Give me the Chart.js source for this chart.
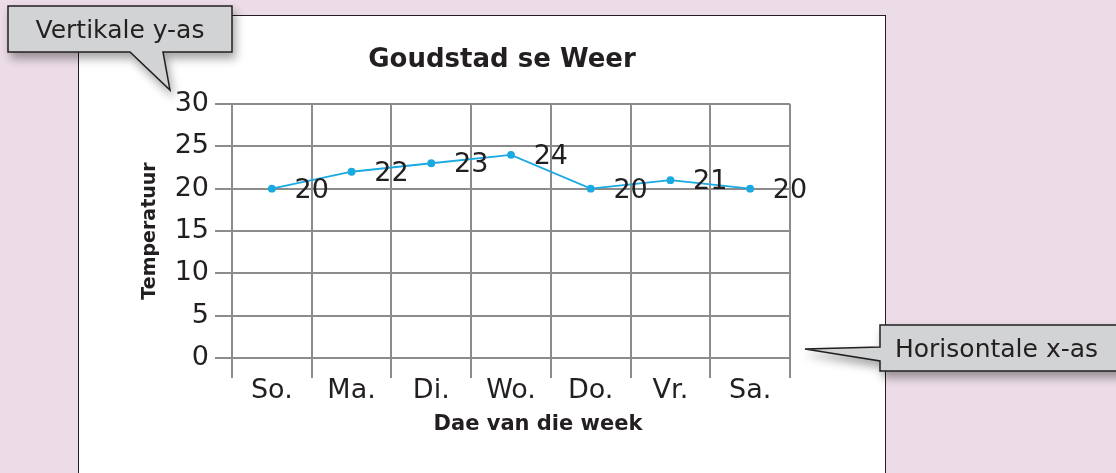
<!DOCTYPE html>
<html>
<head>
  <title>Goudstad se Weer</title>
  <script src="https://cdn.jsdelivr.net/npm/chart.js"></script>
  <style>
    body { margin: 0; width: 1116px; height: 473px; background: #ecdce7; overflow: hidden; position: relative; font-family: 'DejaVu Sans', sans-serif; }
    #panel { position: absolute; left: 78px; top: 15px; width: 808px; height: 480px; background: #fff; border: 1.5px solid #231f20; box-sizing: border-box; }
    #wrap { position: absolute; left: 0; top: 0; width: 1116px; height: 473px; }
    svg.callout { position: absolute; left: 0; top: 0; overflow: visible; filter: drop-shadow(3px 6px 5px rgba(0,0,0,0.35)); }
    svg.callout text { font-family: 'DejaVu Sans', sans-serif; font-size: 25px; fill: #231f20; }
  </style>
</head>
<body>
  <div id="panel"></div>
  <div id="wrap"><canvas id="weather" width="1116" height="473"></canvas></div>

  <svg class="callout" width="1116" height="473">
    <path d="M8,6 H232 V52 H163 L170,90 L130,52 H8 Z" fill="#d1d3d4" stroke="#231f20" stroke-width="1.5"/>
    <text x="120" y="38" text-anchor="middle">Vertikale y-as</text>
    <path d="M880,325 H1125 V371 H880 V361 L805,349 L880,347 Z" fill="#d1d3d4" stroke="#231f20" stroke-width="1.5"/>
    <text x="895" y="357">Horisontale x-as</text>
  </svg>

  <script>
    const days = ['So.', 'Ma.', 'Di.', 'Wo.', 'Do.', 'Vr.', 'Sa.'];
    const temps = [20, 22, 23, 24, 20, 21, 20];
    const yTicks = [0, 5, 10, 15, 20, 25, 30];

    const ink = '#231f20';
    const gridGrey = '#8c8c8c';
    const lineBlue = '#1aa9e1';
    const face = "'DejaVu Sans', sans-serif";

    // value labels and titles placed by hand around the plot area
    const labelsPlugin = {
      id: 'labelsPlugin',
      afterDatasetsDraw(chart) {
        const { ctx, chartArea, scales } = chart;
        const half = (scales.x.getPixelForValue(1) - scales.x.getPixelForValue(0)) / 2;
        ctx.save();
        ctx.fillStyle = ink;
        ctx.font = '27px ' + face;
        ctx.textAlign = 'center';
        ctx.textBaseline = 'middle';
        chart.getDatasetMeta(0).data.forEach((pt, i) => {
          ctx.fillText(String(temps[i]), pt.x + half, pt.y + 2);
        });

        ctx.font = 'bold 26px ' + face;
        ctx.fillText('Goudstad se Weer', (chartArea.left + chartArea.right) / 2 - 9, chartArea.top - 44);

        ctx.font = 'bold 21px ' + face;
        ctx.fillText('Dae van die week', (chartArea.left + chartArea.right) / 2 + 27, chartArea.bottom + 67);

        ctx.font = 'bold 19px ' + face;
        ctx.translate(chartArea.left - 82, (chartArea.top + chartArea.bottom) / 2);
        ctx.rotate(-Math.PI / 2);
        ctx.fillText('Temperatuur', 0, 0);
        ctx.restore();
      }
    };

    new Chart(document.getElementById('weather'), {
      type: 'line',
      data: {
        labels: days,
        datasets: [{
          data: temps,
          borderColor: lineBlue,
          backgroundColor: lineBlue,
          borderWidth: 1.8,
          pointRadius: 3,
          pointHoverRadius: 3,
          tension: 0
        }]
      },
      options: {
        responsive: false,
        animation: false,
        events: [],
        layout: { padding: { left: 132, right: 326, top: 104, bottom: 55 } },
        plugins: { legend: { display: false }, tooltip: { enabled: false } },
        scales: {
          x: {
            offset: true,
            grid: { offset: true, color: gridGrey, lineWidth: 2, tickLength: 20 },
            border: { color: gridGrey, width: 2 },
            ticks: { color: ink, font: { size: 27, family: face }, padding: -3 },
            afterFit: s => { s.height = 60; }
          },
          y: {
            min: 0,
            max: 30,
            afterBuildTicks: s => { s.ticks = yTicks.map(v => ({ value: v })); },
            grid: { color: gridGrey, lineWidth: 2, tickLength: 17 },
            border: { color: gridGrey, width: 2 },
            ticks: { color: ink, font: { size: 27, family: face }, padding: 6 },
            afterFit: s => { s.width = 100; }
          }
        }
      },
      plugins: [labelsPlugin]
    });
  </script>
</body>
</html>
